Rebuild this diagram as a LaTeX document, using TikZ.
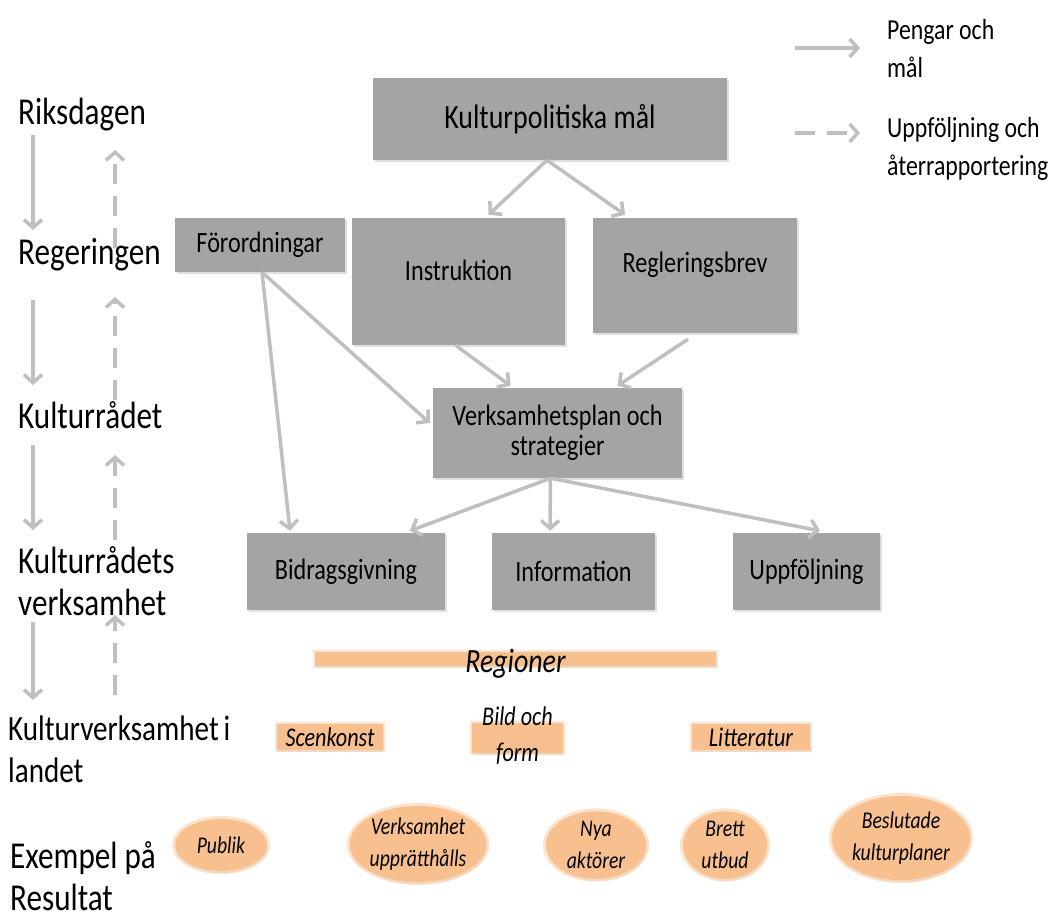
\documentclass[tikz,border=0pt]{standalone}
\usepackage{fontspec}
\setmainfont{Carlito}[FakeStretch=0.82]
\usetikzlibrary{arrows.meta,shadows,shapes.geometric}
\definecolor{boxgray}{HTML}{A4A4A4}
\definecolor{arrgray}{HTML}{BFBFBF}
\definecolor{orfill}{HTML}{F8C08E}
\begin{document}
\begin{tikzpicture}[x=1pt,y=-1pt,
  box/.style={fill=boxgray, draw=none, inner sep=0pt, align=center,
    font=\fontsize{29.5}{30}\selectfont,
    drop shadow={opacity=0.25, shadow xshift=1.5pt, shadow yshift=-1.5pt}},
  lvl/.style={anchor=west, align=left, inner sep=0pt, font=\fontsize{38}{42}\selectfont},
  legtext/.style={anchor=west, align=left, inner sep=0pt, font=\fontsize{29}{38}\selectfont},
  conn/.style={draw=arrgray, line width=3.5pt, -{Straight Barb[length=8pt,width=18pt,line width=3.5pt]}},
  fb/.style={conn, dash pattern=on 20pt off 12pt},
  orbox/.style={fill=orfill, draw=orfill, draw opacity=0.4, line width=4pt, inner sep=0pt,
    drop shadow={opacity=0.15, shadow xshift=1pt, shadow yshift=-2pt}},
  itx/.style={inner sep=0pt, align=center, font=\itshape\fontsize{27}{36}\selectfont},
  res/.style={ellipse, fill=orfill, draw=orfill, draw opacity=0.45, line width=6pt, inner sep=0pt,
    align=center, font=\itshape\fontsize{24}{32}\selectfont,
    drop shadow={opacity=0.15, shadow xshift=1pt, shadow yshift=-2pt}}
]
\useasboundingbox (0,0) rectangle (1054,918);

% legend
\coordinate (lga) at (795,48);
\coordinate (lgb) at (860,48);
\coordinate (lgc) at (795,133);
\coordinate (lgd) at (860,133);
\draw[conn] (lga) -- (lgb);
\draw[fb] (lgc) -- (lgd);
\node[legtext] (leg1) at (887,49) {Pengar och\\mål};
\node[legtext] (leg2) at (887,149) {Uppföljning och\\återrapportering};

% left level labels
\node[lvl] (riks) at (18,115) {Riksdagen};
\node[lvl] (reg) at (18,255) {Regeringen};
\node[lvl] (kr) at (18,415) {Kulturrådet};
\node[lvl] (krv) at (18,581) {Kulturrådets\\verksamhet};
\node[lvl, font=\fontsize{35.5}{42}\selectfont] (kvl) at (8,749) {Kulturverksamhet\hspace{5pt}i\\landet};
\node[lvl] (ex) at (10,876) {Exempel på\\Resultat};

% left arrows
\foreach \i/\a/\b in {1/135/230, 2/300/385, 3/445/530, 4/622/700}{
  \coordinate (sa\i) at (33,\a);
  \coordinate (sb\i) at (33,\b);
  \draw[conn] (sa\i) -- (sb\i);
}
\foreach \i/\a/\b in {1/248/150, 2/400/297, 3/540/455, 4/695/615}{
  \coordinate (da\i) at (115,\a);
  \coordinate (db\i) at (115,\b);
  \draw[fb] (da\i) -- (db\i);
}

% boxes
\node[box, minimum width=354pt, minimum height=82pt] (kpm) at (550,119) {\fontsize{34}{36}\selectfont Kulturpolitiska mål};
\node[box, minimum width=170pt, minimum height=54pt] (forord) at (260,245) {Förordningar};
\node[box, minimum width=213pt, text height=62pt, text depth=65pt] (instr) at (458.5,281.5) {Instruktion};
\node[box, minimum width=204pt, text height=54pt, text depth=61pt] (regl) at (695,275.5) {Regleringsbrev};
\node[box, minimum width=249pt, minimum height=90pt] (vplan) at (557.5,433) {Verksamhetsplan och\\strategier};
\node[box, minimum width=198pt, minimum height=77pt] (bidr) at (346,571.5) {Bidragsgivning};
\node[box, minimum width=163pt, minimum height=77pt] (info) at (573.5,571.5) {Information};
\node[box, minimum width=147pt, minimum height=77pt] (uppf) at (806.5,571.5) {Uppföljning};

% connectors
\draw[conn] ([xshift=-3pt]kpm.south) -- ([xshift=30pt,yshift=3pt]instr.north);
\draw[conn] ([xshift=-3pt]kpm.south) -- ([xshift=-70pt,yshift=3pt]regl.north);
\draw[conn] ([xshift=2pt]forord.south) -- ([xshift=-56pt,yshift=2pt]bidr.north);
\draw[conn] ([xshift=2pt]forord.south) -- ([xshift=-3pt,yshift=10pt]vplan.west);
\draw[conn] ([xshift=-3pt]instr.south) -- ([xshift=-47pt,yshift=2pt]vplan.north);
\draw[conn] ([xshift=-7pt,yshift=-6pt]regl.south) -- ([xshift=60pt,yshift=2pt]vplan.north);
\draw[conn] ([xshift=-7pt]vplan.south) -- ([xshift=64pt,yshift=2pt]bidr.north);
\draw[conn] ([xshift=-7pt]vplan.south) -- ([xshift=-23.5pt,yshift=2pt]info.north);
\draw[conn] ([xshift=-7pt]vplan.south) -- ([xshift=13.5pt,yshift=2pt]uppf.north);

% regions
\node[orbox, minimum width=401pt, text height=14pt, text depth=0pt,
  font=\itshape\fontsize{34}{36}\selectfont] (regioner) at (515.5,659) {\raisebox{-6pt}{Regioner}};
\node[orbox, itx, minimum width=106pt, minimum height=26pt] (scen) at (330,737) {Scenkonst};
\node[orbox, minimum width=91pt, minimum height=30pt] (bild) at (517.5,738) {};
\node[itx] (bildt) at ([yshift=2pt]bild) {Bild och\\form};
\node[orbox, itx, minimum width=118pt, minimum height=26pt] (litt) at (751,737) {Litteratur};

% results
\node[res, minimum width=92pt, minimum height=52pt] (publik) at (221,845) {Publik};
\node[res, minimum width=134pt, minimum height=76pt] (vu) at (418,844) {Verksamhet\\upprätthålls};
\node[res, minimum width=100pt, minimum height=60pt] (nya) at (596,845) {Nya\\aktörer};
\node[res, minimum width=84pt, minimum height=66pt] (brett) at (725,845) {Brett\\utbud};
\node[res, minimum width=112pt, minimum height=84pt] (besl) at (901,838) {Beslutade\\kulturplaner};
\end{tikzpicture}
\end{document}
